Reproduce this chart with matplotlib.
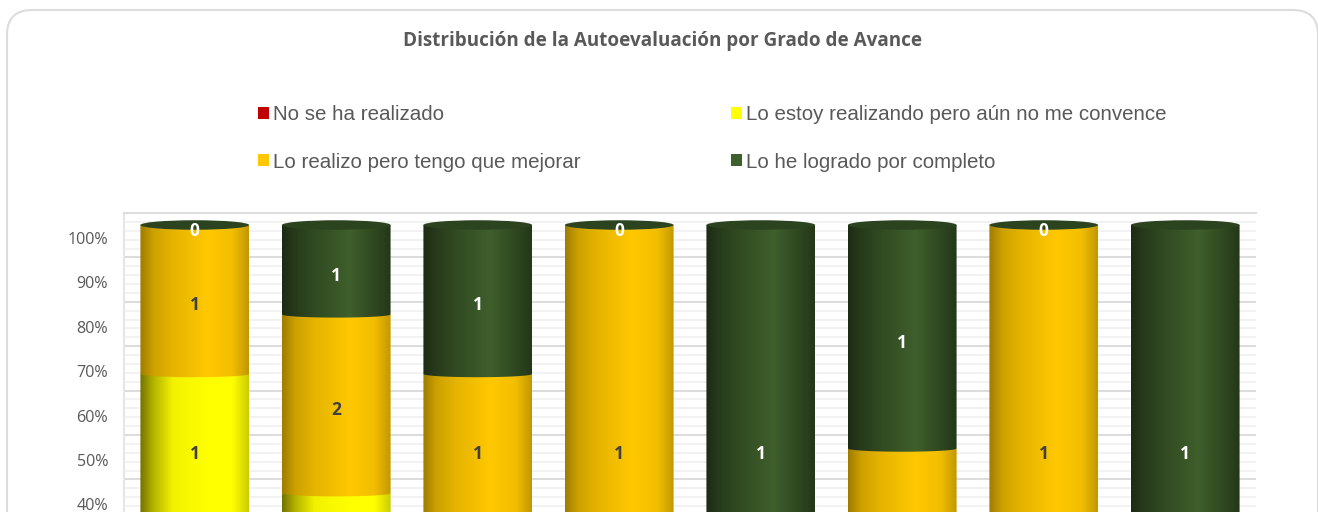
import numpy as np
import matplotlib
matplotlib.use("Agg")
import matplotlib.pyplot as plt
from matplotlib.patches import Rectangle, Ellipse, PathPatch, FancyBboxPatch
from matplotlib.path import Path
from matplotlib.transforms import ScaledTranslation, IdentityTransform

title = "Distribución de la Autoevaluación por Grado de Avance"
series = ["No se ha realizado", "Lo estoy realizando pero aún no me convence",
          "Lo realizo pero tengo que mejorar", "Lo he logrado por completo"]
# counts for the 8 bars, the bottom of the chart is cut off in the picture
rojo = [1, 1, 0, 0, 0, 0, 0, 0]
amarillo = [1, 1, 1, 0, 0, 0, 0, 0]
naranja = [1, 2, 1, 1, 0, 1, 1, 0]
verde = [0, 1, 1, 0, 1, 1, 0, 1]
colores = ["#C00000", "#FFFF00", "#FFC800", "#3F5F2C"]
texto_color = ["#404040", "#404040", "#404040", "#FFFFFF"]
ticks = [40, 50, 60, 70, 80, 90, 100]

W, H = 1318, 512
plt.rcParams["font.family"] = ["Open Sans", "DejaVu Sans"]
fig = plt.figure(figsize=(W / 100, H / 100), dpi=100)

def box(x0, x1, ytop, ybot):
    return [x0 / W, 1 - ybot / H, (x1 - x0) / W, (ybot - ytop) / H]

# rounded frame of the chart, in pixels
marco = FancyBboxPatch((7, -60), 1311, 562, boxstyle="round,pad=0,rounding_size=25",
                       fc="white", ec="#DCDCDC", lw=1.5, transform=IdentityTransform(), zorder=-1)
fig.add_artist(marco)

# back wall, shifted up and with its own scale
wall = fig.add_axes(box(124, 1256, 213, 512), facecolor="none")
wall.set_xlim(0, 1)
wall.set_ylim(100 - 299 / 4.44, 100)
wall.set_yticks(ticks)
wall.set_yticklabels([str(t) + "%" for t in ticks], fontsize=11.6, color="#595959")
wall.set_yticks(np.arange(34, 100, 2), minor=True)
wall.set_xticks([])
wall.grid(True, axis="y", which="major", color="#D9D9D9", lw=1.3)
wall.grid(True, axis="y", which="minor", color="#EFEFEF", lw=1.1)
wall.tick_params(axis="y", which="both", length=0, pad=11.5)
for lado in ["right", "bottom"]:
    wall.spines[lado].set_visible(False)
wall.spines["top"].set_color("#DDDDDD")
wall.spines["top"].set_linewidth(1.5)
wall.spines["left"].set_color("#E6E6E6")
wall.spines["left"].set_linewidth(1.5)
bajar = ScaledTranslation(0, -25 / 100, fig.dpi_scale_trans)
for lab in wall.get_yticklabels():
    lab.set_transform(lab.get_transform() + bajar)

ax = fig.add_axes(box(124, 1256, 213, 512), facecolor="none")
ax.axis("off")
PX = 4.47  # pixels per percent on the front plane
ylim = (100 - 287 / PX, 100 + 12 / PX)
ax.set_xlim(-0.5, 7.5)
ax.set_ylim(*ylim)

valores = np.array([rojo, amarillo, naranja, verde], dtype=float)
pct = valores / valores.sum(axis=0) * 100
ancho = 0.768
stops = [0, 0.12, 0.3, 0.62, 0.85, 1]
luz = [[0.55, 0.72, 0.9, 1, 0.9, 0.72],
       [0.45, 0.7, 0.95, 1, 1, 0.8],
       [0.62, 0.8, 0.9, 1, 0.95, 0.76],
       [0.45, 0.62, 0.78, 1, 0.75, 0.58]]

def cuerpo(x, bajo, alto):
    # front of one cylinder slice, lower edge is curved
    t = np.linspace(np.pi, 2 * np.pi, 40)
    xs = x + ancho / 2 * np.cos(t)
    ys = bajo + 3.2 / PX * np.sin(t)
    pts = [(x - ancho / 2, alto)] + list(zip(xs, ys)) + [(x + ancho / 2, alto), (x - ancho / 2, alto)]
    return Path(pts)

base = np.zeros(8)
for s in range(4):
    rgb = np.array(matplotlib.colors.to_rgb(colores[s]))
    u = np.linspace(0, 1, 200)
    grad = np.outer(np.interp(u, stops, luz[s]), rgb)[None, :, :]
    for i in range(8):
        if pct[s, i] == 0:
            continue
        x = i
        lo, hi = base[i], base[i] + pct[s, i]
        if hi < ylim[0]:
            continue
        im = ax.imshow(grad, extent=[x - ancho / 2, x + ancho / 2, lo - 2, hi], aspect="auto",
                       zorder=2 + s, interpolation="bilinear")
        im.set_clip_path(PathPatch(cuerpo(x, lo, hi), transform=ax.transData))
    base += pct[s]

# dark lid of the cylinders
for i in range(8):
    ax.add_patch(Ellipse((i, 100), ancho, 9.5 / PX, fc="#2C4320", ec="none", zorder=8))

# data labels
base = np.zeros(8)
for s in range(4):
    for i in range(8):
        centro = base[i] + pct[s, i] / 2
        if centro > ylim[0] + 2:
            ax.annotate("%d" % valores[s, i], (i, centro), xytext=(-0.1, -4.3), textcoords="offset points",
                        ha="center", va="center", fontsize=12.5, fontweight="bold",
                        color=texto_color[s], zorder=9)
    base += pct[s]
ax.set_xlim(-0.5, 7.5)
ax.set_ylim(*ylim)

fig.text(663 / W, 1 - 41 / H, title, ha="center", va="center", fontsize=13.55,
         fontweight="bold", color="#595959")

# legend fills by column, the picture reads by row
orden = [0, 2, 1, 3]
manijas = [Rectangle((0, 0), 1, 1, fc=colores[k], ec="none") for k in orden]
leg = fig.legend(manijas, [series[k] for k in orden], ncol=2, frameon=False,
                 loc="upper left", bbox_to_anchor=(258 / W, 1 - 105 / H), borderaxespad=0,
                 prop={"family": "Liberation Sans", "size": 14.75}, labelcolor="#595959",
                 handlelength=0.53, handleheight=0.53, handletextpad=0.2,
                 labelspacing=1.4, columnspacing=7.34, borderpad=0)

fig.savefig("out.png", dpi=100)
